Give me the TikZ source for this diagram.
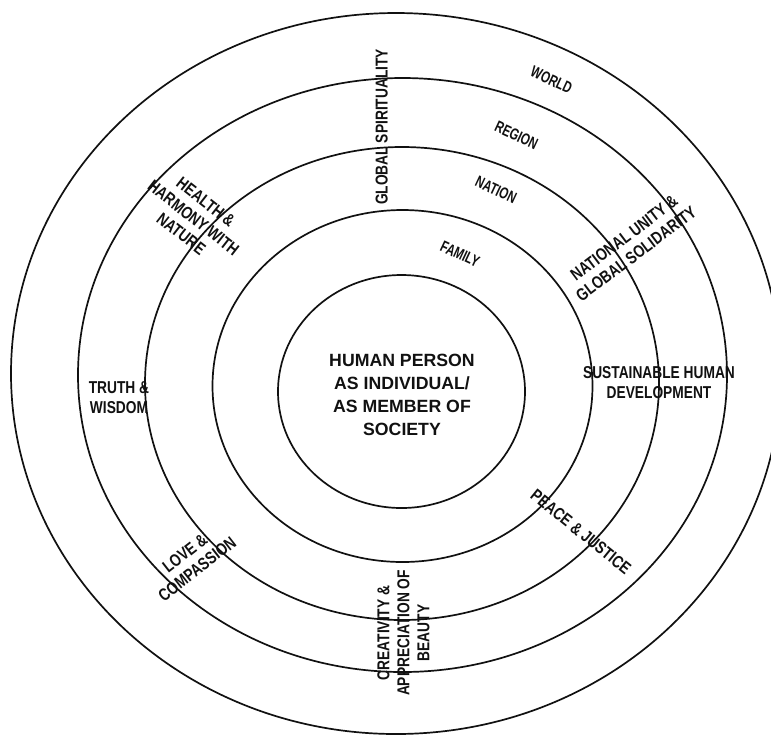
\documentclass[tikz,border=0pt]{standalone}
\usepackage{fontspec}
\usepackage{tikz}
\setmainfont{Liberation Sans}
\newfontfamily\corefont{Liberation Sans}
\newfontfamily\valuefont[FakeStretch=0.8]{Liberation Sans}
\newfontfamily\bandfont[FakeStretch=0.72]{Liberation Sans}
\definecolor{ink}{HTML}{111111}
\definecolor{paper}{HTML}{FFFFFF}

\begin{document}
\begin{tikzpicture}[x=0.5pt,y=0.5pt,
  ringline/.style={draw=ink,line width=0.85pt},
  coretext/.style={align=center,text=ink,font=\corefont\bfseries\fontsize{8.85}{11.5}\selectfont},
  valuetext/.style={align=center,text=ink,inner sep=0pt,font=\valuefont\bfseries\fontsize{8.6}{10}\selectfont},
  bandtext/.style={text=ink,inner sep=0pt,rotate=-25,font=\bandfont\bfseries\fontsize{8}{9}\selectfont}]
\useasboundingbox[fill=paper] (0,0) rectangle (771,-736);
\foreach \cx/\cy/\rx/\ry [count=\i] in {401.5/391.5/123.5/116.5,402.5/386/190/176,402/383.5/257/236.5,402.5/375/324.5/297,396/373.5/385/360.5}{
  \draw[ringline] (\cx,-\cy) ellipse [x radius=\rx, y radius=\ry];
}
\node[coretext] (person) at (402,-394.5) {HUMAN PERSON\\AS INDIVIDUAL/\\AS MEMBER OF\\SOCIETY};
\foreach \band/\x/\y in {FAMILY/460/254,NATION/496/190,REGION/516.5/135.5,WORLD/551.5/80}{
  \node[bandtext] (\band) at (\x,-\y) {\band};
}
\node[valuetext,rotate=90] (spirit) at (381.7,-127) {GLOBAL SPIRITUALITY};
\node[valuetext,rotate=37] (unity) at (630,-246) {NATIONAL UNITY \&\\GLOBAL SOLIDARITY};
\node[valuetext] (sustain) at (659,-383) {SUSTAINABLE HUMAN\\DEVELOPMENT};
\node[valuetext,rotate=-39] (peace) at (581,-532) {PEACE \& JUSTICE};
\node[valuetext,rotate=90] (beauty) at (403.5,-633) {CREATIVITY \&\\APPRECIATION OF\\BEAUTY};
\node[valuetext,rotate=38] (love) at (191,-561) {LOVE \&\\COMPASSION};
\node[valuetext] (truth) at (119,-397.5) {TRUTH \&\\WISDOM};
\node[valuetext,rotate=-38] (health) at (193.5,-218) {HEALTH \&\\HARMONY WITH\\NATURE};
\end{tikzpicture}
\end{document}
